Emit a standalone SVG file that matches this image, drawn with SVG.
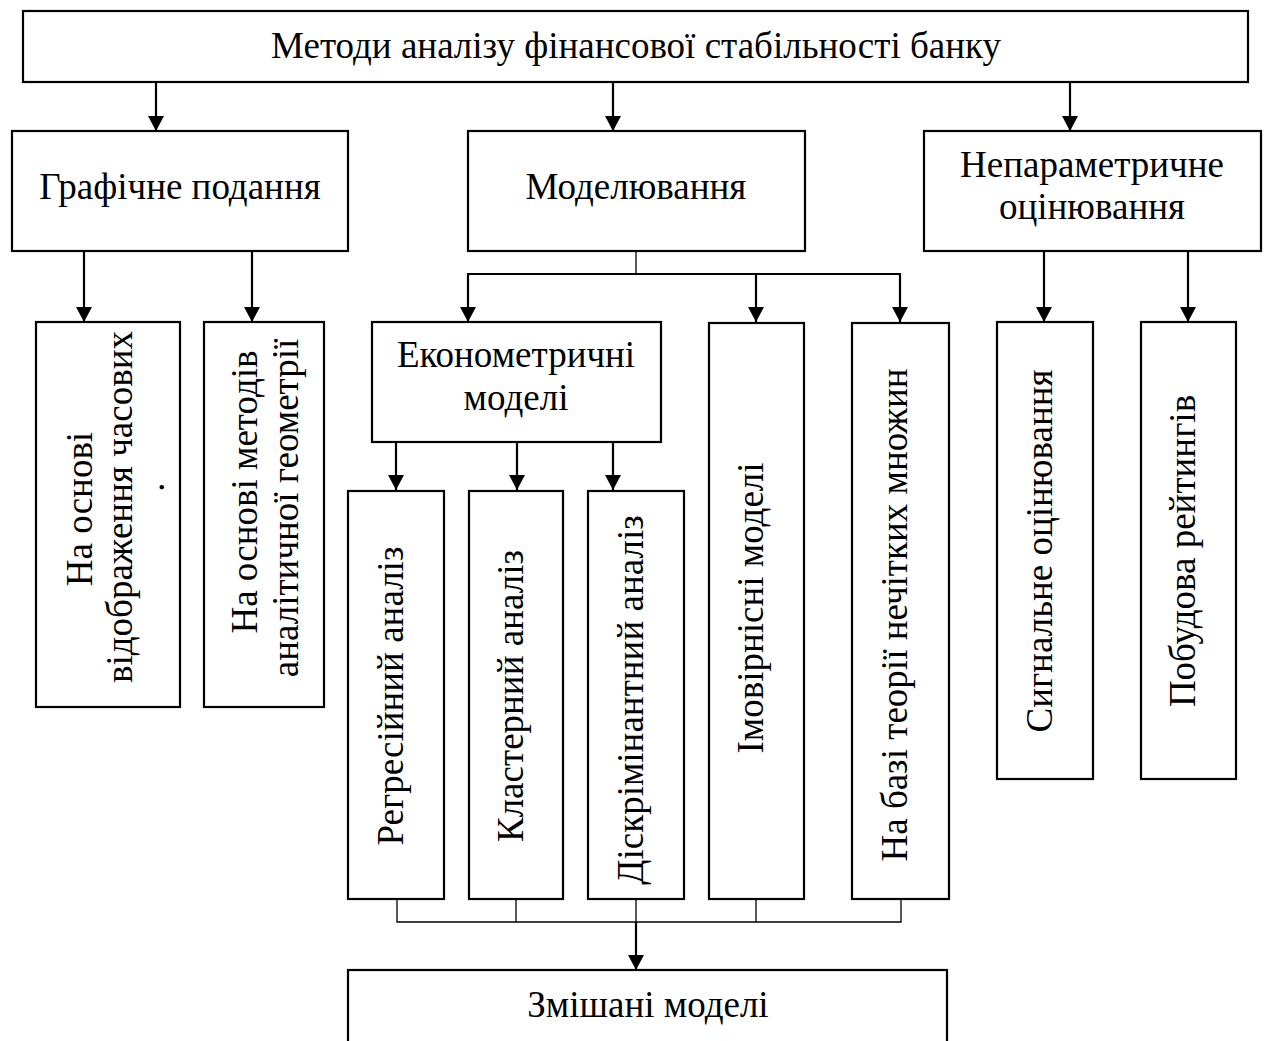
<svg xmlns="http://www.w3.org/2000/svg" width="1264" height="1041" viewBox="0 0 1264 1041">
<defs>
<marker id="ah" markerUnits="userSpaceOnUse" viewBox="0 0 15 16" markerWidth="15" markerHeight="16" refX="15" refY="8" orient="auto">
<path d="M0,0 L15,8 L0,16 z" fill="#000"/>
</marker>
<style>
.box{fill:#fff;stroke:#000;stroke-width:2.2}
.t{font-family:"Liberation Serif","Times New Roman",serif;font-size:37px;fill:#000;text-anchor:middle}
.a{stroke:#000;stroke-width:2.2;fill:none;marker-end:url(#ah)}
.l{stroke:#000;stroke-width:2.2;fill:none}
.s{stroke:#000;stroke-width:1.3;fill:none}
</style>
</defs>
<rect width="1264" height="1041" fill="#fff"/>
<g id="connectors">
<line class="a" x1="156" y1="82" x2="156" y2="131"/>
<line class="a" x1="613" y1="82" x2="613" y2="131"/>
<line class="a" x1="1070" y1="82" x2="1070" y2="131"/>
<line class="a" x1="84" y1="251" x2="84" y2="322"/>
<line class="a" x1="252" y1="251" x2="252" y2="322"/>
<line class="s" x1="636" y1="251" x2="636" y2="274"/>
<line class="l" x1="467" y1="274" x2="901" y2="274"/>
<line class="a" x1="468" y1="274" x2="468" y2="322"/>
<line class="a" x1="756" y1="274" x2="756" y2="322"/>
<line class="a" x1="900" y1="274" x2="900" y2="322"/>
<line class="a" x1="396" y1="442" x2="396" y2="490"/>
<line class="a" x1="517" y1="442" x2="517" y2="490"/>
<line class="a" x1="613" y1="442" x2="613" y2="490"/>
<line class="a" x1="1044" y1="251" x2="1044" y2="322"/>
<line class="a" x1="1188" y1="251" x2="1188" y2="322"/>
<path class="s" d="M397,899 V922 H901 V899 M516,899 V922 M636,899 V922 M756,899 V922"/>
<line class="a" x1="636" y1="922" x2="636" y2="970"/>
</g>
<g id="n-root">
<rect class="box" x="23" y="11" width="1225" height="71"/>
<text class="t" x="636" y="58">Методи аналізу фінансової стабільності банку</text>
</g>
<g id="n-graph">
<rect class="box" x="12" y="131" width="336" height="120"/>
<text class="t" x="180" y="199">Графічне подання</text>
</g>
<g id="n-model">
<rect class="box" x="468" y="131" width="337" height="120"/>
<text class="t" x="636" y="199">Моделювання</text>
</g>
<g id="n-nonparam">
<rect class="box" x="924" y="131" width="337" height="120"/>
<text class="t" x="1092" y="177">Непараметричне</text>
<text class="t" x="1092" y="219">оцінювання</text>
</g>
<g id="n-timeseries">
<rect class="box" x="36" y="322" width="144" height="385"/>
<text class="t" transform="translate(92,509) rotate(-90)">На основі</text>
<text class="t" transform="translate(132,507) rotate(-90)">відображення часових</text>
<text class="t" transform="translate(164,487) rotate(-90)">.</text>
</g>
<g id="n-geometry">
<rect class="box" x="204" y="322" width="120" height="385"/>
<text class="t" transform="translate(257,492) rotate(-90)">На основі методів</text>
<text class="t" transform="translate(298,508) rotate(-90)">аналітичної геометрії</text>
</g>
<g id="n-econ">
<rect class="box" x="372" y="322" width="289" height="120"/>
<text class="t" x="516" y="367">Економетричні</text>
<text class="t" x="516" y="410">моделі</text>
</g>
<g id="n-regression">
<rect class="box" x="348" y="491" width="96" height="408"/>
<text class="t" transform="translate(403,696) rotate(-90)">Регресійний аналіз</text>
</g>
<g id="n-cluster">
<rect class="box" x="469" y="491" width="94" height="408"/>
<text class="t" transform="translate(523,696) rotate(-90)">Кластерний аналіз</text>
</g>
<g id="n-discriminant">
<rect class="box" x="588" y="491" width="96" height="408"/>
<text class="t" transform="translate(643,700) rotate(-90)">Діскрімінантний аналіз</text>
</g>
<g id="n-prob">
<rect class="box" x="709" y="323" width="95" height="576"/>
<text class="t" transform="translate(763,608) rotate(-90)">Імовірнісні моделі</text>
</g>
<g id="n-fuzzy">
<rect class="box" x="852" y="323" width="97" height="576"/>
<text class="t" transform="translate(907,615) rotate(-90)">На базі теорії нечітких множин</text>
</g>
<g id="n-signal">
<rect class="box" x="997" y="322" width="96" height="457"/>
<text class="t" transform="translate(1052,551) rotate(-90)">Сигнальне оцінювання</text>
</g>
<g id="n-rating">
<rect class="box" x="1141" y="322" width="95" height="457"/>
<text class="t" transform="translate(1195,551) rotate(-90)">Побудова рейтингів</text>
</g>
<g id="n-mixed">
<rect class="box" x="348" y="970" width="599" height="90"/>
<text class="t" x="648" y="1017">Змішані моделі</text>
</g>
</svg>
